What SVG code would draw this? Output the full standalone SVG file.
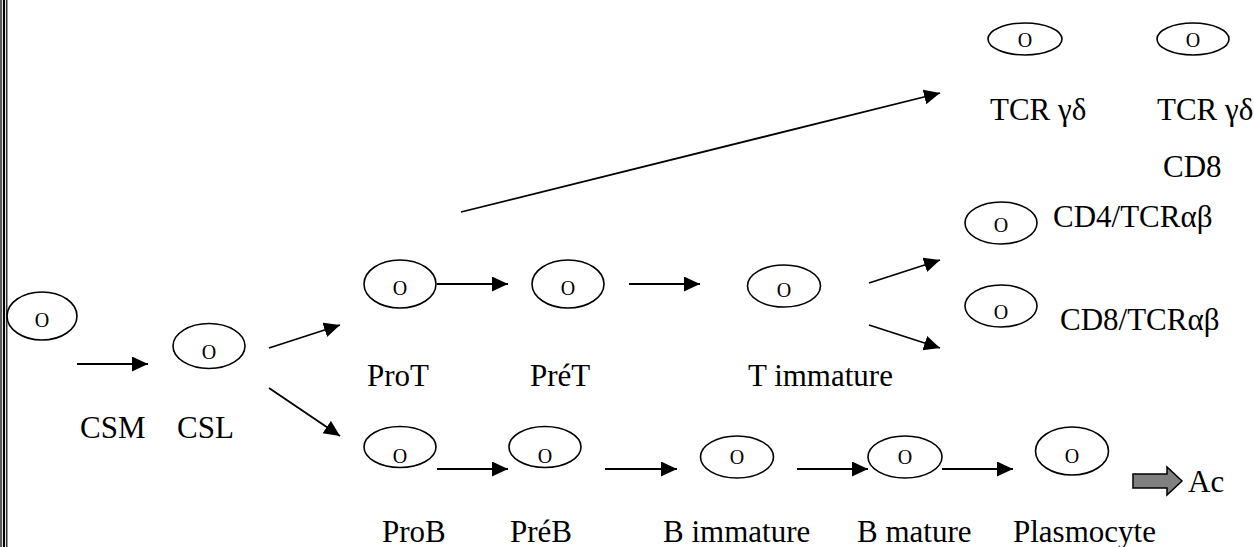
<svg xmlns="http://www.w3.org/2000/svg" width="1254" height="547" viewBox="0 0 1254 547">
<style>
  .cell { fill: none; stroke: #000; stroke-width: 1.6; }
  .o { font-family: "Liberation Serif", "Times New Roman", serif; font-size: 20px; fill: #000; text-anchor: middle; }
  .lbl { font-family: "Liberation Serif", "Times New Roman", serif; font-size: 31px; fill: #000; }
  .arr { stroke: #000; stroke-width: 1.8; fill: none; marker-end: url(#ah); }
  .border { stroke: #000; }
</style>
<defs>
  <marker id="ah" markerUnits="userSpaceOnUse" markerWidth="17" markerHeight="16" refX="16" refY="7.5" orient="auto">
    <path d="M0,0 L16,7.5 L0,15 Z" fill="#000"/>
  </marker>
</defs>
<rect width="1254" height="547" fill="#fff"/>
<g id="border">
  <line class="border" x1="1" y1="0" x2="1" y2="547" stroke-width="1.3"/>
  <line class="border" x1="4" y1="0" x2="4" y2="547" stroke-width="2.2"/>
  <line class="border" x1="6.8" y1="0" x2="6.8" y2="547" stroke-width="1.2"/>
</g>
<g id="connectors">
  <line class="arr" x1="77" y1="364" x2="148" y2="364"/>
  <line class="arr" x1="269" y1="348" x2="340" y2="325"/>
  <line class="arr" x1="269" y1="388" x2="340" y2="436"/>
  <line class="arr" x1="437" y1="284" x2="508" y2="284"/>
  <line class="arr" x1="629" y1="284" x2="700" y2="284"/>
  <line class="arr" x1="461" y1="212" x2="940" y2="93"/>
  <line class="arr" x1="869" y1="283" x2="940" y2="260"/>
  <line class="arr" x1="869" y1="325" x2="940" y2="348"/>
  <line class="arr" x1="437" y1="469" x2="508" y2="469"/>
  <line class="arr" x1="605" y1="469" x2="677" y2="469"/>
  <line class="arr" x1="797" y1="469" x2="868" y2="469"/>
  <line class="arr" x1="942" y1="469" x2="1013" y2="469"/>
  <path d="M1133,474 L1167,474 L1167,467 L1182,481 L1167,495 L1167,488 L1133,488 Z" fill="#808080" stroke="#000" stroke-width="1.5"/>
</g>
<g id="csm">
  <ellipse class="cell" cx="42" cy="316" rx="35" ry="24"/>
  <text class="o" x="42" y="327">O</text>
  <text class="lbl" x="80" y="438">CSM</text>
</g>
<g id="csl">
  <ellipse class="cell" cx="209" cy="346" rx="36" ry="22.5"/>
  <text class="o" x="209" y="359">O</text>
  <text class="lbl" x="177" y="438">CSL</text>
</g>
<g id="prot">
  <ellipse class="cell" cx="400" cy="284" rx="36" ry="24"/>
  <text class="o" x="400" y="295">O</text>
  <text class="lbl" x="367" y="386">ProT</text>
</g>
<g id="pret">
  <ellipse class="cell" cx="568" cy="284" rx="36" ry="24"/>
  <text class="o" x="568" y="295">O</text>
  <text class="lbl" x="530" y="386">PréT</text>
</g>
<g id="timmature">
  <ellipse class="cell" cx="784" cy="286" rx="36.5" ry="21"/>
  <text class="o" x="784" y="297">O</text>
  <text class="lbl" x="748" y="386">T immature</text>
</g>
<g id="tcrgd1">
  <ellipse class="cell" cx="1025" cy="39" rx="37" ry="16"/>
  <text class="o" x="1025" y="47">O</text>
  <text class="lbl" x="990" y="120">TCR γδ</text>
</g>
<g id="tcrgd2">
  <ellipse class="cell" cx="1193" cy="39" rx="36" ry="16"/>
  <text class="o" x="1193" y="47">O</text>
  <text class="lbl" x="1157" y="120">TCR γδ</text>
  <text class="lbl" x="1163" y="177">CD8</text>
</g>
<g id="cd4">
  <ellipse class="cell" cx="1001" cy="223" rx="36" ry="21"/>
  <text class="o" x="1001" y="232">O</text>
  <text class="lbl" x="1053" y="227">CD4/TCRαβ</text>
</g>
<g id="cd8">
  <ellipse class="cell" cx="1001" cy="306" rx="36" ry="21"/>
  <text class="o" x="1001" y="319">O</text>
  <text class="lbl" x="1060" y="330">CD8/TCRαβ</text>
</g>
<g id="prob">
  <ellipse class="cell" cx="400" cy="447" rx="36" ry="20.5"/>
  <text class="o" x="400" y="463">O</text>
  <text class="lbl" x="382" y="542">ProB</text>
</g>
<g id="preb">
  <ellipse class="cell" cx="545" cy="447" rx="36" ry="20.5"/>
  <text class="o" x="545" y="463">O</text>
  <text class="lbl" x="510" y="542">PréB</text>
</g>
<g id="bimmature">
  <ellipse class="cell" cx="737" cy="457" rx="36.5" ry="21"/>
  <text class="o" x="737" y="464">O</text>
  <text class="lbl" x="663" y="542">B immature</text>
</g>
<g id="bmature">
  <ellipse class="cell" cx="905" cy="457" rx="37" ry="21"/>
  <text class="o" x="905" y="464">O</text>
  <text class="lbl" x="857" y="542">B mature</text>
</g>
<g id="plasmocyte">
  <ellipse class="cell" cx="1072" cy="451" rx="36.5" ry="24"/>
  <text class="o" x="1072" y="463">O</text>
  <text class="lbl" x="1013" y="542">Plasmocyte</text>
</g>
<g id="ac">
  <text class="lbl" x="1188" y="492">Ac</text>
</g>
</svg>
